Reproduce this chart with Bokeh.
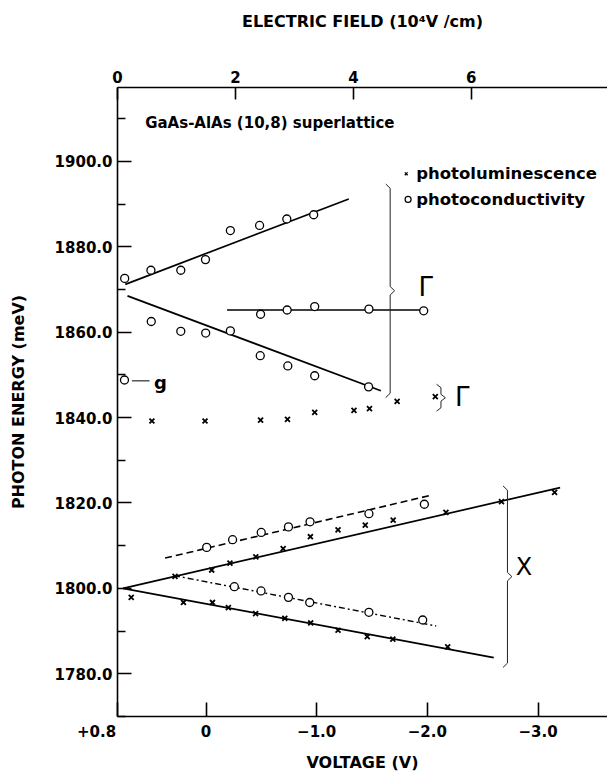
from bokeh.plotting import figure
from bokeh.models import Range1d, LinearAxis, FixedTicker, PrintfTickFormatter
from bokeh.embed import file_html
from bokeh.resources import INLINE
from bokeh.core.properties import value

# ---------------- data (voltage V, photon energy meV) ----------------
# Gamma region, photoconductivity
g_up_pc_v = [0.735, 0.498, 0.228, 0.005, -0.22, -0.484, -0.73, -0.973]
g_up_pc_e = [1872.6, 1874.5, 1874.5, 1877.0, 1883.8, 1885.0, 1886.5, 1887.5]
g_lo_pc_v = [0.495, 0.228, 0.003, -0.22, -0.49, -0.739, -0.982, -1.469]
g_lo_pc_e = [1862.5, 1860.2, 1859.8, 1860.3, 1854.5, 1852.1, 1849.8, 1847.2]
g_mid_pc_v = [-0.493, -0.733, -0.982, -1.472, -1.967]
g_mid_pc_e = [1864.2, 1865.2, 1866.0, 1865.4, 1865.0]
g_pt_v = [0.737]
g_pt_e = [1848.8]
# Gamma region, photoluminescence
g_pl_v = [0.489, 0.009, -0.493, -0.736, -0.982, -1.337, -1.477, -1.727, -2.072]
g_pl_e = [1839.2, 1839.2, 1839.4, 1839.6, 1841.2, 1841.7, 1842.1, 1843.8, 1844.9]
# X region, photoconductivity
x_up_pc_v = [-0.006, -0.24, -0.499, -0.745, -0.94, -1.472, -1.973]
x_up_pc_e = [1809.6, 1811.4, 1813.1, 1814.4, 1815.6, 1817.5, 1819.7]
x_lo_pc_v = [-0.256, -0.497, -0.745, -0.937, -1.472, -1.958]
x_lo_pc_e = [1800.4, 1799.4, 1797.9, 1796.7, 1794.4, 1792.6]
# X region, photoluminescence
x_up_pl_v = [0.28, -0.051, -0.216, -0.45, -0.697, -0.943, -1.193, -1.439, -1.691, -2.168, -2.67, -3.15]
x_up_pl_e = [1802.8, 1804.3, 1805.9, 1807.4, 1809.3, 1812.1, 1813.7, 1814.8, 1816.0, 1817.8, 1820.3, 1822.5]
x_lo_pl_v = [0.676, 0.204, -0.058, -0.202, -0.448, -0.712, -0.946, -1.193, -1.457, -1.688, -2.184]
x_lo_pl_e = [1797.9, 1796.7, 1796.7, 1795.5, 1794.1, 1793.0, 1791.9, 1790.2, 1788.7, 1788.1, 1786.3]

# fitted lines (end points)
g_up_fit_v = [0.73, -1.29]
g_up_fit_e = [1871.2, 1891.2]
g_lo_fit_v = [0.71, -1.58]
g_lo_fit_e = [1868.5, 1846.3]
g_mid_fit_v = [-0.19, -1.97]
g_mid_fit_e = [1865.2, 1865.2]
x_up_fit_v = [0.75, -3.20]
x_up_fit_e = [1800.0, 1823.6]
x_lo_fit_v = [0.75, -2.60]
x_lo_fit_e = [1800.0, 1783.8]
x_up_pc_fit_v = [0.37, -2.03]
x_up_pc_fit_e = [1807.1, 1821.8]
x_lo_pc_fit_v = [0.29, -2.08]
x_lo_pc_fit_e = [1803.0, 1791.2]

# brackets: (voltage position, low energy, high energy)
brace_big_gamma = (-1.664, 1844.7, 1894.7)
brace_small_gamma = (-2.123, 1841.5, 1847.8)
brace_x = (-2.724, 1781.5, 1824.0)

# axes
volt_ticks = [0.8, 0, -1, -2, -3]
volt_labels = ["+0.8\u2007\u2007\u2007\u2007", "0", "\u22121.0", "\u22122.0", "\u22123.0"]
field_ticks = [0, 2, 4, 6]
energy_ticks = [1780, 1800, 1820, 1840, 1860, 1880, 1900]
energy_minor = [1770, 1790, 1810, 1830, 1850, 1870, 1890, 1910]

FONT = "DejaVu Sans"

p = figure(width=607, height=774, output_backend="svg", toolbar_location=None,
           x_range=Range1d(0.8, -3.628), y_range=Range1d(1770.0, 1917.3),
           min_border_left=117, min_border_right=0, min_border_top=87,
           min_border_bottom=58)
p.grid.visible = False
p.outline_line_color = None
p.background_fill_color = "white"
p.border_fill_color = "white"

def style_axis(ax):
    ax.axis_line_width = 1.6
    ax.axis_line_color = "black"
    ax.major_tick_in = 14
    ax.major_tick_out = 0
    ax.minor_tick_in = 8
    ax.minor_tick_out = 0
    ax.major_tick_line_width = 1.6
    ax.minor_tick_line_width = 1.4
    ax.major_label_text_font = FONT
    ax.major_label_text_font_style = "bold"
    ax.major_label_text_font_size = "15px"
    ax.major_label_text_color = "black"
    ax.axis_label_text_font = FONT
    ax.axis_label_text_font_style = "bold"
    ax.axis_label_text_font_size = "16px"
    ax.axis_label_text_color = "black"

xa = p.xaxis[0]
style_axis(xa)
xa.ticker = FixedTicker(ticks=volt_ticks, minor_ticks=[])
xa.major_label_overrides = {t: l for t, l in zip(volt_ticks, volt_labels)}
xa.major_label_standoff = 6
xa.axis_label = "VOLTAGE (V)"
xa.axis_label_standoff = 9

ya = p.yaxis[0]
style_axis(ya)
ya.ticker = FixedTicker(ticks=energy_ticks, minor_ticks=energy_minor)
ya.formatter = PrintfTickFormatter(format="%.1f")
ya.major_label_standoff = 5
ya.axis_label = "PHOTON ENERGY (meV)"
ya.axis_label_standoff = 24

p.extra_x_ranges = {"field": Range1d(0, 8.31)}
top = LinearAxis(x_range_name="field")
style_axis(top)
top.major_tick_in = 12
top.ticker = FixedTicker(ticks=field_ticks, minor_ticks=[])
top.major_label_standoff = 5
top.axis_label = "ELECTRIC FIELD (10\u2074V /cm)"
top.axis_label_standoff = 37
p.add_layout(top, "above")

# fit lines
for vv, ee, dash, lw in [
    (g_up_fit_v, g_up_fit_e, "solid", 1.7),
    (g_lo_fit_v, g_lo_fit_e, "solid", 1.7),
    (g_mid_fit_v, g_mid_fit_e, "solid", 1.4),
    (x_up_fit_v, x_up_fit_e, "solid", 1.7),
    (x_lo_fit_v, x_lo_fit_e, "solid", 1.7),
    (x_up_pc_fit_v, x_up_pc_fit_e, "7 4", 1.6),
    (x_lo_pc_fit_v, x_lo_pc_fit_e, "6 3 2 3", 1.4),
]:
    p.line(vv, ee, line_color="black", line_width=lw, line_dash=dash)

# markers
for vv, ee in [(g_up_pc_v, g_up_pc_e), (g_lo_pc_v, g_lo_pc_e), (g_mid_pc_v, g_mid_pc_e),
               (g_pt_v, g_pt_e), (x_up_pc_v, x_up_pc_e), (x_lo_pc_v, x_lo_pc_e)]:
    p.scatter(vv, ee, marker="circle", size=8, fill_color="white",
              line_color="black", line_width=1.3)
for vv, ee in [(g_pl_v, g_pl_e), (x_up_pl_v, x_up_pl_e), (x_lo_pl_v, x_lo_pl_e)]:
    p.scatter(vv, ee, marker="x", size=7, line_color="black", line_width=1.8)

# braces
def brace(b, dx=0.04, dy=1.0):
    x, lo, hi = b
    mid = (lo + hi) / 2
    xs = [x + dx, x, x, x - dx, x, x, x + dx]
    ys = [hi, hi - dy, mid + dy, mid, mid - dy, lo + dy, lo]
    p.line(xs, ys, line_color="#222222", line_width=1.0)

brace(brace_big_gamma)
brace(brace_small_gamma, dy=0.8)
brace(brace_x)

def label(x, y, t, size, style="bold", font=FONT, align="left"):
    p.text([x], [y], text=[t], text_font=value(font), text_font_size=size,
           text_font_style=style, text_baseline="middle", text_align=align,
           text_color="black")

label(0.55, 1909.1, "GaAs-AlAs (10,8) superlattice", "15px")
# legend
p.scatter([-1.809], [1897.1], marker="x", size=4, line_color="black", line_width=1.3)
label(-1.899, 1897.1, "photoluminescence", "16.5px")
p.scatter([-1.826], [1891.1], marker="circle", size=6, fill_color="white",
          line_color="black", line_width=1.2)
label(-1.899, 1891.1, "photoconductivity", "16.5px")
# Gamma / X labels
label(-1.92, 1870.6, "\u0393", "26px", style="normal")
label(-2.25, 1844.9, "\u0393", "26px", style="normal")
label(-2.80, 1805.0, "X", "24px", style="normal")
# g label
p.line([0.67, 0.51], [1848.6, 1848.6], line_color="black", line_width=1.0)
label(0.47, 1848.2, "g", "18px")

open("out.html", "w").write(file_html(p, INLINE))
